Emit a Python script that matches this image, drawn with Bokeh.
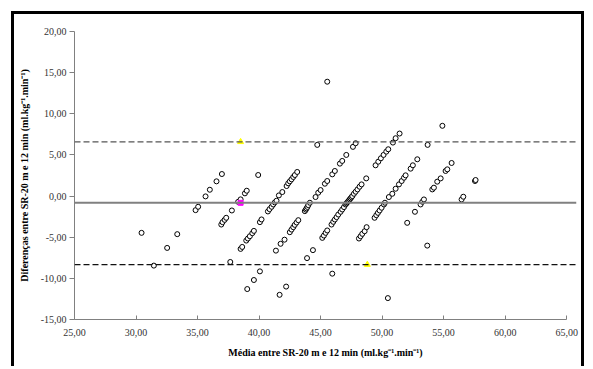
from bokeh.plotting import figure
from bokeh.models import FixedTicker, Span, ColumnDataSource
from bokeh.embed import file_html
from bokeh.resources import INLINE

# ---- data ----
mean_vals = [
    30.45,
    31.45, 32.53, 33.35, 34.84, 35.05, 35.65, 36.00, 36.54, 36.98,
    36.93, 37.03, 37.20, 37.33, 37.79, 38.30, 38.50, 38.85, 39.00, 39.93,
    37.66, 38.50, 38.63, 38.96, 39.09, 39.25, 39.45, 39.58, 40.07, 40.20,
    40.72, 40.85, 41.02, 41.15, 41.28, 41.42, 41.61, 41.89, 42.24, 42.37,
    42.50, 42.64, 42.78, 42.91, 43.10, 44.73,
    39.04, 39.58, 40.07, 41.37, 41.75, 42.07, 42.50, 42.64, 42.78, 42.90,
    43.05, 43.19, 43.72, 43.80, 43.86, 43.93, 44.00, 44.13, 44.59, 44.81,
    45.00, 45.35, 45.54, 45.95, 46.16, 46.57, 46.76, 47.09, 47.63, 47.85,
    41.67, 42.20, 43.90, 44.38, 45.14, 45.27, 45.41, 45.54, 45.89, 46.03,
    46.16, 46.30, 46.44, 46.63, 46.76, 46.90, 47.03, 47.10, 47.17, 47.24,
    47.30, 47.37, 47.44, 47.51, 47.58, 47.71, 47.85, 48.00, 48.17, 48.33,
    48.71, 49.47, 49.69, 49.90, 50.12, 50.34, 50.50, 50.88, 51.10, 51.42,
    45.95, 48.12, 48.25, 48.39, 48.58, 48.74, 49.39, 49.53, 49.66, 49.80,
    49.96, 50.15, 50.23, 50.55, 50.83, 51.10, 51.37, 51.59, 51.78, 51.91,
    52.32, 52.50, 52.86, 53.70, 54.90,
    52.04, 52.67, 53.13, 53.27, 53.40, 54.08, 54.21, 54.48, 54.76, 55.16,
    55.30, 55.65,
    50.47, 53.67, 56.46, 56.60, 57.55, 57.60,
    45.54,
]
diff_vals = [
    -4.47,
    -8.45, -6.30, -4.63, -1.71, -1.30, -0.04, 0.77, 1.79, 2.68,
    -3.46, -3.17, -2.89, -2.64, -1.75, -0.70, -0.40, 0.33, 0.65, 2.56,
    -8.01, -6.42, -6.18, -5.41, -5.16, -4.88, -4.51, -4.23, -3.17, -2.84,
    -1.87, -1.59, -1.30, -1.02, -0.77, -0.57, 0.08, 0.49, 1.22, 1.55,
    1.79, 2.04, 2.32, 2.56, 2.93, 6.22,
    -11.30, -10.20, -9.15, -6.63, -5.80, -5.30, -4.39, -4.07, -3.78, -3.50,
    -3.21, -2.93, -1.83, -1.65, -1.50, -1.32, -1.10, -0.81, -0.12, 0.41,
    0.73, 1.50, 1.83, 2.64, 3.05, 3.94, 4.27, 5.00, 5.98, 6.42,
    -12.00, -11.00, -7.54, -6.57, -5.08, -4.80, -4.47, -4.18, -3.46, -3.13,
    -2.85, -2.56, -2.24, -1.91, -1.63, -1.34, -1.02, -0.90, -0.77, -0.65,
    -0.53, -0.40, -0.28, -0.14, 0.00, 0.28, 0.53, 0.81, 1.14, 1.42,
    2.15, 3.74, 4.18, 4.59, 5.00, 5.40, 5.69, 6.50, 7.03, 7.60,
    -9.43, -5.16, -4.88, -4.59, -4.27, -3.78, -2.64, -2.32, -2.04, -1.75,
    -1.42, -1.02, -0.81, -0.12, 0.28, 0.89, 1.42, 1.83, 2.23, 2.52,
    3.33, 3.74, 4.47, 6.22, 8.54,
    -3.25, -1.91, -1.02, -0.69, -0.41, 0.81, 1.02, 1.75, 2.15, 3.05,
    3.25, 4.02,
    -12.40, -6.02, -0.41, -0.08, 1.83, 1.95,
    13.90,
]

mean_diff = -0.82
upper_limit = 6.59
lower_limit = -8.33

tri_x = [38.5, 48.8]
tri_y = [6.59, -8.33]
sq_x = [38.5]
sq_y = [-0.82]

x_ticks = [25, 30, 35, 40, 45, 50, 55, 60, 65]
y_ticks = [-15, -10, -5, 0, 5, 10, 15, 20]
x_tick_labels = ["25,00", "30,00", "35,00", "40,00", "45,00", "50,00", "55,00", "60,00", "65,00"]
y_tick_labels = ["-15,00", "-10,00", "-5,00", "0,00", "5,00", "10,00", "15,00", "20,00"]

x_title = "Média entre SR-20 m e 12 min (ml.kg\u207b\u00b9.min\u207b\u00b9)"
y_title = "Diferenças entre SR-20 m e 12 min (ml.kg\u207b\u00b9.min\u207b\u00b9)"

# ---- figure (inside a black chart frame drawn by CSS) ----
p = figure(width=573, height=355, x_range=(25, 65.8), y_range=(-15, 20),
           output_backend="svg", toolbar_location=None,
           min_border_left=60, min_border_right=11, min_border_top=17, min_border_bottom=50)
p.styles = {"margin-left": "11px", "margin-top": "11px",
            "border-left": "3px solid black", "border-right": "3px solid black",
            "border-top": "3px solid black", "border-bottom": "none"}
p.xgrid.visible = False
p.ygrid.visible = False
p.outline_line_color = None
p.background_fill_color = "white"
p.border_fill_color = "white"

serif = "Liberation Serif"
for ax in (p.xaxis[0], p.yaxis[0]):
    ax.axis_line_color = "#808080"
    ax.major_tick_line_color = "#808080"
    ax.minor_tick_line_color = None
    ax.major_label_text_font = serif
    ax.major_label_text_font_size = "10px"
    ax.major_label_text_color = "#333333"
    ax.axis_label_text_font = serif
    ax.axis_label_text_font_size = "10px"
    ax.axis_label_text_font_style = "bold"
    ax.axis_label_text_color = "black"

p.xaxis.ticker = FixedTicker(ticks=x_ticks)
p.yaxis.ticker = FixedTicker(ticks=y_ticks)
p.xaxis.major_label_overrides = dict(zip(x_ticks, x_tick_labels))
p.yaxis.major_label_overrides = dict(zip(y_ticks, y_tick_labels))
p.xaxis.bounds = (25, 65)
p.xaxis.major_tick_in = 4
p.xaxis.major_tick_out = 0
p.yaxis.major_tick_in = 0
p.yaxis.major_tick_out = 5
p.xaxis.major_label_standoff = 9
p.yaxis.major_label_standoff = 3
p.xaxis.axis_label = x_title
p.yaxis.axis_label = y_title
p.xaxis.axis_label_standoff = 8
p.yaxis.axis_label_standoff = 8

# reference lines
p.add_layout(Span(location=upper_limit, dimension="width", line_color="#555555", line_width=1.3, line_dash="6 3"))
p.add_layout(Span(location=lower_limit, dimension="width", line_color="#111111", line_width=1.3, line_dash="6 3"))
p.add_layout(Span(location=mean_diff, dimension="width", line_color="#808080", line_width=2))

src = ColumnDataSource(dict(x=mean_vals, y=diff_vals))
p.scatter("x", "y", source=src, marker="circle", size=5, fill_color="white",
          line_color="black", line_width=1)
p.scatter(tri_x, tri_y, marker="triangle", size=6, fill_color="#ffff00", line_color="#ffff00")
p.scatter(sq_x, sq_y, marker="square", size=5, fill_color="#ff00ff", line_color="#ff00ff")

open("out.html", "w").write(file_html(p, INLINE))
